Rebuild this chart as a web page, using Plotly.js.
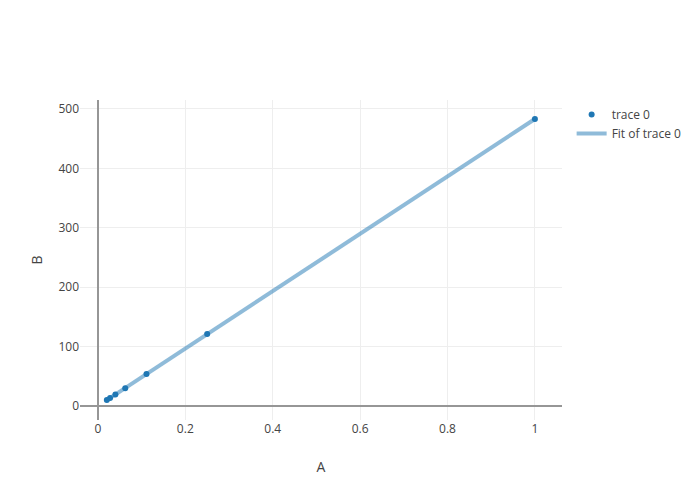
<!DOCTYPE html>
<html>
<head>
<meta charset="utf-8">
<script src="https://cdn.plot.ly/plotly-3.0.1.min.js"></script>
<style>html,body{margin:0;padding:0;}#chart{width:700px;height:500px;}</style>
</head>
<body>
<div id="chart"></div>
<script>
const xValues = [1, 0.25, 0.1111, 0.0625, 0.04, 0.0278, 0.0204];
const yValues = [483, 121, 54, 30, 19.5, 13.5, 10];
const fitX = [0.0204, 1];
const fitY = [9.9, 483];
const traceNames = ['trace 0', 'Fit of trace 0'];

const data = [
  {x: xValues, y: yValues, type: 'scatter', mode: 'markers', name: traceNames[0],
   marker: {color: '#1f77b4', size: 6}},
  {x: fitX, y: fitY, type: 'scatter', mode: 'lines', name: traceNames[1],
   line: {color: 'rgba(31,119,180,0.5)', width: 4}}
];
const layout = {
  width: 700, height: 500,
  margin: {l: 80, r: 138, t: 100, b: 80},
  font: {family: '"Open Sans", sans-serif', size: 12, color: '#444'},
  paper_bgcolor: '#fff', plot_bgcolor: '#fff',
  xaxis: {title: {text: 'A'}, range: [-0.041, 1.062], dtick: 0.2, gridcolor: '#eee',
    zeroline: true, zerolinecolor: '#969696', zerolinewidth: 2, showline: false, ticks: ''},
  yaxis: {title: {text: 'B'}, range: [-23.6, 515], dtick: 100, gridcolor: '#eee',
    zeroline: true, zerolinecolor: '#969696', zerolinewidth: 2, showline: false, ticks: ''},
  legend: {x: 1.02, y: 1, xanchor: 'left', yanchor: 'top'},
  showlegend: true
};
Plotly.newPlot('chart', data, layout, {displayModeBar: false});
</script>
</body>
</html>
